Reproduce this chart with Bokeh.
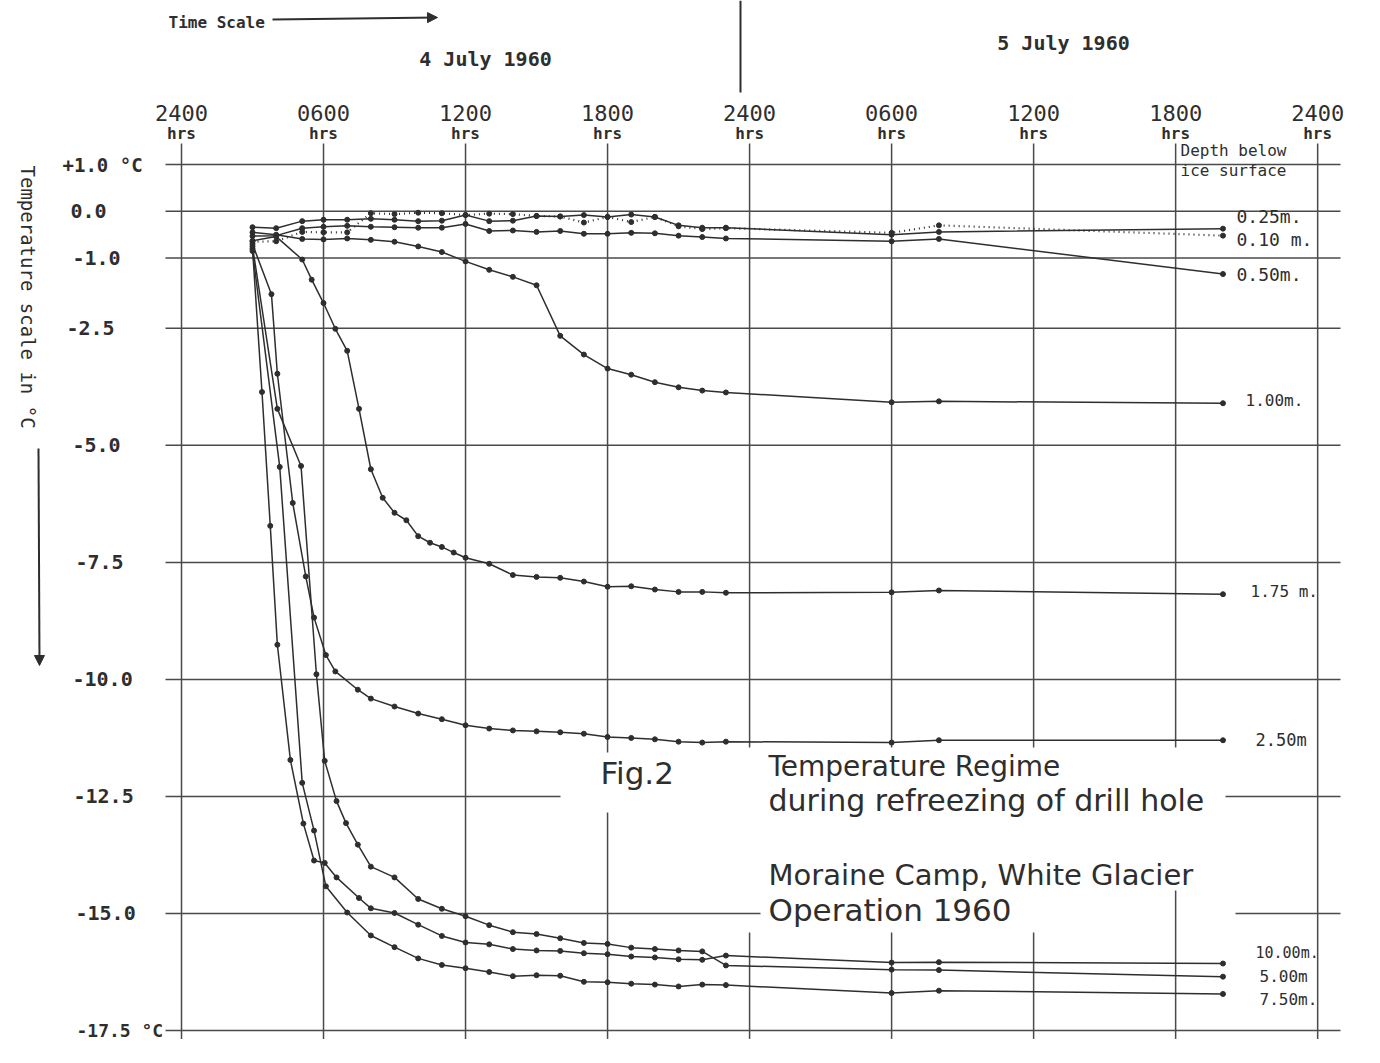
import math
from bokeh.plotting import figure
from bokeh.models import Range1d, Arrow, NormalHead
from bokeh.core.properties import value
from bokeh.embed import file_html
from bokeh.resources import INLINE

# ---------------- data (hours after 2400 of 3/4 July 1960, temperature in deg C) ----------------
h_010 = [3.0, 4.0, 5.1, 6.0, 7.0, 8.0, 9.0, 10.0, 11.0, 12.0, 13.0, 14.0, 15.0, 16.0, 17.0, 18.0, 19.0, 20.0, 21.0, 22.0, 23.0, 30.0, 32.0, 44.0]
t_010 = [-0.65, -0.64, -0.44, -0.45, -0.45, -0.04, -0.06, -0.03, -0.04, -0.08, -0.05, -0.06, -0.10, -0.11, -0.24, -0.12, -0.23, -0.12, -0.32, -0.38, -0.36, -0.46, -0.30, -0.52]

h_025 = [3.0, 4.0, 5.1, 6.0, 7.0, 8.0, 9.0, 10.0, 11.0, 12.0, 13.0, 14.0, 15.0, 16.0, 17.0, 18.0, 19.0, 20.0, 21.0, 22.0, 23.0, 30.0, 32.0, 44.0]
t_025 = [-0.34, -0.36, -0.21, -0.18, -0.18, -0.16, -0.18, -0.21, -0.20, -0.08, -0.21, -0.20, -0.10, -0.11, -0.08, -0.12, -0.07, -0.12, -0.30, -0.35, -0.35, -0.50, -0.44, -0.37]

h_050 = [3.0, 4.0, 5.1, 6.0, 7.0, 8.0, 9.0, 10.0, 11.0, 12.0, 13.0, 14.0, 15.0, 16.0, 17.0, 18.0, 19.0, 20.0, 21.0, 22.0, 23.0, 30.0, 32.0, 44.0]
t_050 = [-0.53, -0.52, -0.36, -0.33, -0.31, -0.33, -0.34, -0.35, -0.35, -0.27, -0.42, -0.41, -0.44, -0.42, -0.48, -0.48, -0.46, -0.47, -0.52, -0.55, -0.58, -0.64, -0.59, -1.34]

h_100 = [3.0, 4.0, 5.1, 6.0, 7.0, 8.0, 9.0, 10.0, 11.0, 12.0, 13.0, 14.0, 15.0, 16.0, 17.0, 18.0, 19.0, 20.0, 21.0, 22.0, 23.0, 30.0, 32.0, 44.0]
t_100 = [-0.45, -0.50, -0.59, -0.60, -0.58, -0.61, -0.65, -0.75, -0.87, -1.07, -1.25, -1.40, -1.58, -2.66, -3.06, -3.36, -3.49, -3.65, -3.76, -3.83, -3.87, -4.08, -4.06, -4.10]

h_175 = [3.0, 4.0, 5.1, 5.5, 6.0, 6.5, 7.0, 7.5, 8.0, 8.5, 9.0, 9.5, 10.0, 10.5, 11.0, 11.5, 12.0, 13.0, 14.0, 15.0, 16.0, 17.0, 18.0, 19.0, 20.0, 21.0, 22.0, 23.0, 30.0, 32.0, 44.0]
t_175 = [-0.63, -0.54, -1.03, -1.46, -1.96, -2.51, -2.98, -4.22, -5.51, -6.12, -6.44, -6.60, -6.94, -7.08, -7.17, -7.29, -7.40, -7.53, -7.77, -7.81, -7.83, -7.91, -8.02, -8.01, -8.08, -8.13, -8.13, -8.15, -8.14, -8.10, -8.18]

h_250 = [3.0, 3.8, 4.05, 4.7, 5.25, 5.6, 6.1, 6.5, 7.45, 8.0, 9.0, 10.0, 11.0, 12.0, 13.0, 14.0, 15.0, 16.0, 17.0, 18.0, 19.0, 20.0, 21.0, 22.0, 23.0, 30.0, 32.0, 44.0]
t_250 = [-0.70, -1.77, -3.47, -6.23, -7.80, -8.68, -9.48, -9.83, -10.22, -10.41, -10.58, -10.73, -10.85, -10.98, -11.05, -11.09, -11.11, -11.13, -11.16, -11.23, -11.25, -11.28, -11.33, -11.35, -11.33, -11.35, -11.30, -11.30]

h_500 = [3.0, 4.05, 5.05, 5.7, 6.05, 6.55, 6.95, 7.45, 8.0, 9.0, 10.0, 11.0, 12.0, 13.0, 14.0, 15.0, 16.0, 17.0, 18.0, 19.0, 20.0, 21.0, 22.0, 23.0, 30.0, 32.0, 44.0]
t_500 = [-0.75, -4.22, -5.44, -9.89, -11.74, -12.60, -13.07, -13.53, -14.00, -14.23, -14.69, -14.90, -15.06, -15.25, -15.40, -15.44, -15.53, -15.63, -15.65, -15.73, -15.76, -15.79, -15.81, -16.11, -16.20, -16.21, -16.35]

h_750 = [3.0, 4.15, 5.1, 5.6, 6.1, 7.0, 8.0, 9.0, 10.0, 11.0, 12.0, 13.0, 14.0, 15.0, 16.0, 17.0, 18.0, 19.0, 20.0, 21.0, 22.0, 23.0, 30.0, 32.0, 44.0]
t_750 = [-0.85, -5.46, -12.21, -13.23, -14.42, -14.98, -15.47, -15.72, -15.96, -16.10, -16.17, -16.25, -16.34, -16.32, -16.33, -16.46, -16.47, -16.50, -16.52, -16.56, -16.52, -16.53, -16.70, -16.65, -16.72]

h_1000 = [3.0, 3.4, 3.75, 4.05, 4.6, 5.15, 5.6, 6.05, 6.55, 7.5, 8.0, 9.0, 10.0, 11.0, 12.0, 13.0, 14.0, 15.0, 16.0, 17.0, 18.0, 19.0, 20.0, 21.0, 22.0, 23.0, 30.0, 32.0, 44.0]
t_1000 = [-0.80, -3.86, -6.72, -9.26, -11.72, -13.08, -13.87, -13.92, -14.23, -14.67, -14.89, -14.99, -15.24, -15.48, -15.62, -15.66, -15.76, -15.79, -15.80, -15.85, -15.87, -15.92, -15.94, -15.98, -15.99, -15.90, -16.05, -16.04, -16.07]

depth_labels = ["0.25m.", "0.10 m.", "0.50m.", "1.00m.", "1.75 m.", "2.50m", "10.00m.", "5.00m", "7.50m."]

y_ticks = [1.0, 0.0, -1.0, -2.5, -5.0, -7.5, -10.0, -12.5, -15.0, -17.5]
y_tick_labels = ["+1.0 °C", "0.0", "-1.0", "-2.5", "-5.0", "-7.5", "-10.0", "-12.5", "-15.0", "-17.5 °C"]
x_ticks = [0, 6, 12, 18, 24, 30, 36, 42, 48]
x_tick_labels = ["2400", "0600", "1200", "1800", "2400", "0600", "1200", "1800", "2400"]

# ---------------- page geometry (pixel layout of the sheet) ----------------
W, H = 1380, 1063
X0, SX = 181.0, 23.67      # px of hour 0, px per hour
Y1, SY = 164.0, 46.81      # px of +1.0 C, px per degree

def hx(px):
    return (px - X0) / SX

def ty(py):
    return 1.0 - (py - Y1) / SY

INK = "#2e2e2e"
GRID = "#4a4a4a"
FONT = "DejaVu Sans"
MONO = "DejaVu Sans Mono"

p = figure(width=W, height=H, output_backend="svg", toolbar_location=None,
           x_range=Range1d(hx(0), hx(W)), y_range=Range1d(ty(H), ty(0)),
           x_axis_location=None, y_axis_location=None, min_border=0,
           background_fill_color="white", border_fill_color="white")
p.grid.visible = False
p.outline_line_color = None

# ---------------- grid ----------------
left_h, right_h = hx(165), hx(1340)
hx0, hx1, hy0, hy1 = [], [], [], []
for t in y_ticks:
    if t == -12.5:
        segs = [(left_h, hx(560)), (hx(1225), right_h)]
    elif t == -15.0:
        segs = [(left_h, hx(760)), (hx(1235), right_h)]
    else:
        segs = [(left_h, right_h)]
    for a, b in segs:
        hx0.append(a); hx1.append(b); hy0.append(t); hy1.append(t)
p.segment(hx0, hy0, hx1, hy1, line_color=GRID, line_width=1.5)

top_t, bot_t = ty(143), -17.68
vx0, vy0, vx1, vy1 = [], [], [], []
for h in x_ticks:
    if h == 18:
        segs = [(top_t, ty(752)), (ty(812), bot_t)]
    elif h in (24, 30, 36):
        segs = [(top_t, ty(747)), (ty(932), bot_t)]
    elif h == 42:
        segs = [(top_t, ty(747)), (ty(890), bot_t)]
    else:
        segs = [(top_t, bot_t)]
    for a, b in segs:
        vx0.append(h); vx1.append(h); vy0.append(a); vy1.append(b)
p.segment(vx0, vy0, vx1, vy1, line_color=GRID, line_width=1.5)

# day divider at the top
p.segment([hx(740)], [ty(0)], [hx(740)], [ty(92)], line_color=INK, line_width=2)

# ---------------- series ----------------
series = [
    (h_025, t_025, "solid"),
    (h_010, t_010, "1 4"),
    (h_050, t_050, "solid"),
    (h_100, t_100, "solid"),
    (h_175, t_175, "solid"),
    (h_250, t_250, "solid"),
    (h_1000, t_1000, "solid"),
    (h_500, t_500, "solid"),
    (h_750, t_750, "solid"),
]
for hh, tt, dash in series:
    p.line(hh, tt, line_color=INK, line_width=1.5 if dash == "solid" else 2.2, line_dash=dash)
    p.scatter(hh, tt, size=5, color=INK)

# depth labels next to the line ends
label_dy = [0.25, -0.08, 0.0, 0.05, 0.05, 0.0, 0.22, 0.0, -0.12]
ends = [t_025[-1], t_010[-1], t_050[-1], t_100[-1], t_175[-1], t_250[-1], t_1000[-1], t_500[-1], t_750[-1]]
lab_px = [1236, 1236, 1236, 1245, 1250, 1255, 1255, 1259, 1259]
lab_sz = ["18px", "18px", "18px", "16px", "16px", "17px", "15px", "16px", "16px"]
for lab, e, dy, lx, sz in zip(depth_labels, ends, label_dy, lab_px, lab_sz):
    p.text([hx(lx)], [e + dy], text=[lab], text_font=value(MONO), text_font_size=sz,
           text_color=INK, text_baseline="middle", text_align="left")

p.text([hx(1180)], [ty(150)], text=["Depth below"], text_font=value(MONO), text_font_size="16px",
       text_color=INK, text_baseline="middle", text_align="left")
p.text([hx(1180)], [ty(170)], text=["ice surface"], text_font=value(MONO), text_font_size="16px",
       text_color=INK, text_baseline="middle", text_align="left")

# ---------------- tick labels ----------------
p.text(x_ticks, [ty(112)] * len(x_ticks), text=x_tick_labels, text_font=value(MONO),
       text_font_size="22px", text_color=INK, text_align="center", text_baseline="middle")
p.text(x_ticks, [ty(133)] * len(x_ticks), text=["hrs"] * len(x_ticks), text_font=value(MONO),
       text_font_size="16px", text_color=INK, text_align="center", text_baseline="middle",
       text_font_style="bold")

ylab_px = [62, 70, 72, 66, 72, 75, 72, 73, 75, 76]
ylab_sz = ["19px", "20px", "20px", "20px", "20px", "20px", "20px", "20px", "20px", "18px"]
for t, lab, lx, sz in zip(y_ticks, y_tick_labels, ylab_px, ylab_sz):
    p.text([hx(lx)], [t], text=[lab], text_font=value(MONO), text_font_size=sz,
           text_color=INK, text_align="left", text_baseline="middle", text_font_style="bold")

# ---------------- titles and notes ----------------
p.text([hx(168)], [ty(22)], text=["Time Scale"], text_font=value(MONO), text_font_size="16px",
       text_color=INK, text_align="left", text_baseline="middle", text_font_style="bold")
p.add_layout(Arrow(end=NormalHead(size=10, fill_color=INK, line_color=INK),
                   x_start=hx(272), y_start=ty(19), x_end=hx(437), y_end=ty(17),
                   line_color=INK, line_width=2))
p.text([hx(485)], [ty(58)], text=["4 July 1960"], text_font=value(MONO), text_font_size="20px",
       text_color=INK, text_align="center", text_baseline="middle", text_font_style="bold")
p.text([hx(1063)], [ty(42)], text=["5 July 1960"], text_font=value(MONO), text_font_size="20px",
       text_color=INK, text_align="center", text_baseline="middle", text_font_style="bold")

p.text([hx(27)], [ty(165)], text=["Temperature scale in °C"], angle=-math.pi / 2,
       text_font=value(MONO), text_font_size="19px", text_color=INK,
       text_align="left", text_baseline="middle")
p.add_layout(Arrow(end=NormalHead(size=10, fill_color=INK, line_color=INK),
                   x_start=hx(38), y_start=ty(448), x_end=hx(39), y_end=ty(665),
                   line_color=INK, line_width=2))

p.text([hx(600)], [ty(772)], text=["Fig.2"], text_font=value(FONT), text_font_size="31px",
       text_color=INK, text_align="left", text_baseline="middle")
notes = ["Temperature Regime", "during refreezing of drill hole", "Moraine Camp, White Glacier", "Operation 1960"]
note_py = [766, 800, 874, 909]
note_sz = ["28px", "30px", "29px", "31px"]
for txt, py, sz in zip(notes, note_py, note_sz):
    p.text([hx(768)], [ty(py)], text=[txt], text_font=value(FONT), text_font_size=sz,
           text_color=INK, text_align="left", text_baseline="middle")

open("out.html", "w").write(file_html(p, INLINE))
